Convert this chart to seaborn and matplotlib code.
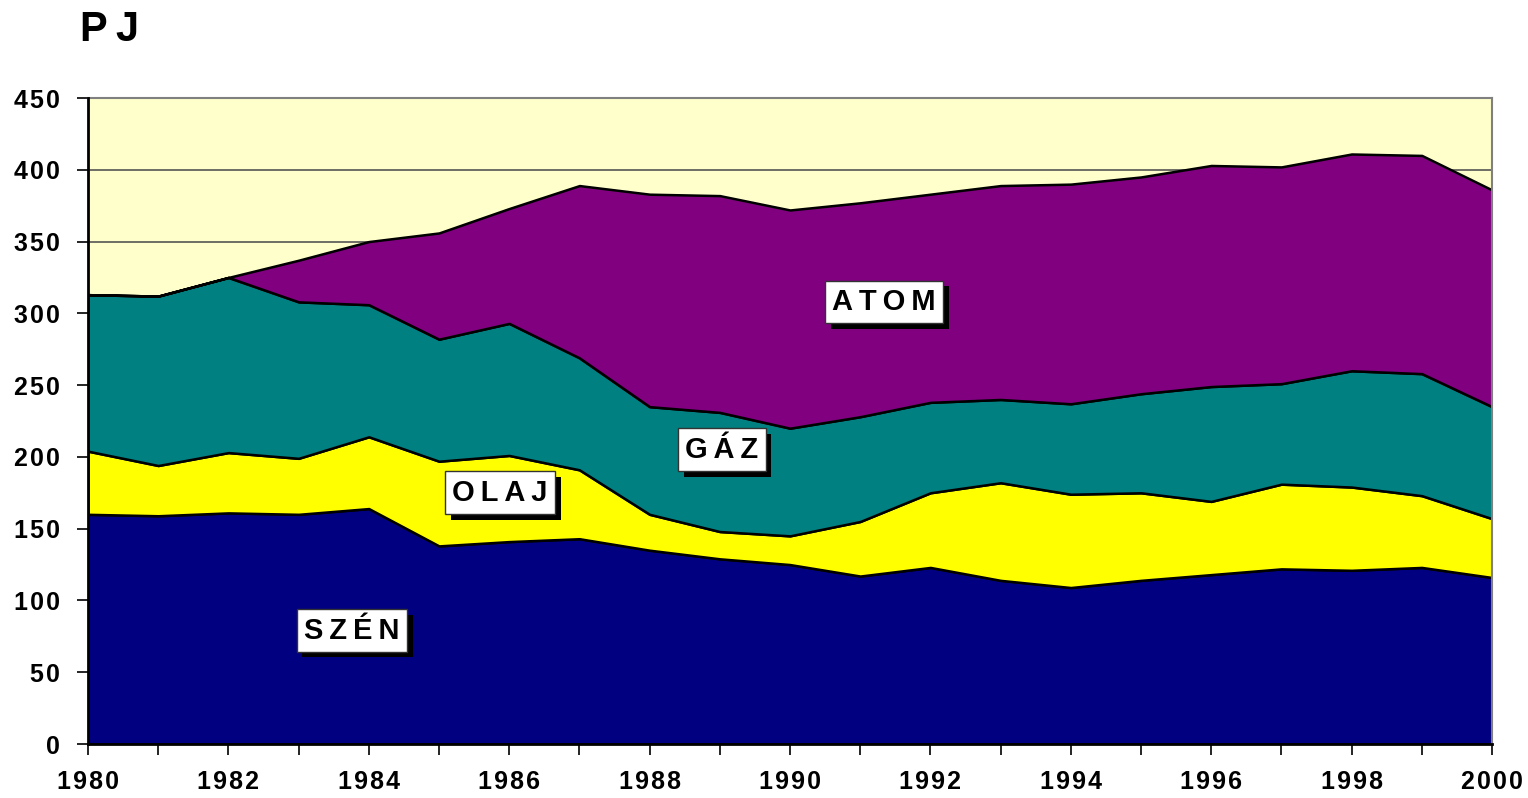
import numpy as np
import seaborn as sns
import matplotlib.pyplot as plt
import matplotlib.patheffects as pe

years = list(range(1980, 2001))
szen = [160, 159, 161, 160, 164, 138, 141, 143, 135, 129, 125, 117, 123, 114, 109, 114, 118, 122, 121, 123, 116]
olaj = [44, 35, 42, 39, 50, 59, 60, 48, 25, 19, 20, 38, 52, 68, 65, 61, 51, 59, 58, 50, 41]
gaz = [109, 118, 122, 109, 92, 85, 92, 78, 75, 83, 75, 73, 63, 58, 63, 69, 80, 70, 81, 85, 78]
atom = [0, 0, 0, 29, 44, 74, 80, 120, 148, 151, 152, 149, 145, 149, 153, 151, 154, 151, 151, 152, 151]
series_names = ['SZÉN', 'OLAJ', 'GÁZ', 'ATOM']
colors = ['#000080', '#FFFF00', '#008080', '#800080']
yticks = list(range(0, 451, 50))
# label anchor points (year, PJ)
label_pos = {'SZÉN': (1983.76, 79), 'OLAJ': (1985.87, 175), 'GÁZ': (1989.03, 205), 'ATOM': (1991.34, 308)}


def spaced(s, sp='\u2009'):
    # mimic the wide letter spacing of the original
    return sp.join(s)


sns.set_theme(style='white')
plt.rcParams['font.family'] = ['Liberation Sans', 'DejaVu Sans']

fig = plt.figure(figsize=(15.28, 7.98), dpi=100)
ax = fig.add_axes([88 / 1528, 1 - 744 / 798, (1492 - 88) / 1528, (744 - 98) / 798])
ax.set_facecolor('#FFFFCC')

ax.stackplot(years, szen, olaj, gaz, atom, colors=colors, edgecolor='black', linewidth=1.8, zorder=2)

ax.set_xlim(1980, 2000)
ax.set_ylim(0, 450)
ax.set_yticks(yticks)
ax.set_yticklabels([spaced(str(v), '\u200a') for v in yticks])
ax.set_xticks(years)
ax.set_xticklabels([spaced(str(y), '\u200a') if y % 2 == 0 else '' for y in years])
ax.yaxis.grid(True, color='#555555', linewidth=1.2, zorder=1)
ax.xaxis.grid(False)
ax.set_axisbelow(True)

ax.tick_params(axis='both', direction='out', length=8, width=1.2, color='black',
               labelsize=18, labelcolor='black')
ax.tick_params(axis='x', pad=11, bottom=True)
ax.tick_params(axis='y', pad=12, left=True)
for lbl in ax.get_xticklabels() + ax.get_yticklabels():
    lbl.set_fontweight('bold')

for side in ['left', 'bottom']:
    ax.spines[side].set_color('black')
    ax.spines[side].set_linewidth(2)
for side in ['top', 'right']:
    ax.spines[side].set_color('#808080')
    ax.spines[side].set_linewidth(1.5)
ax.spines['left'].set_zorder(5)
ax.spines['bottom'].set_zorder(5)

for name in series_names:
    x, y = label_pos[name]
    t = ax.text(x, y, spaced(name), ha='center', va='center', fontsize=21, fontweight='bold',
                color='black', zorder=6,
                bbox=dict(boxstyle='square,pad=0.25', facecolor='white', edgecolor='#333333', linewidth=1))
    t.get_bbox_patch().set_path_effects([
        pe.SimplePatchShadow(offset=(4, -4), shadow_rgbFace='black', alpha=1),
        pe.Normal()])

fig.text(80 / 1528, 1 - 30 / 798, spaced('PJ'), fontsize=30, fontweight='bold', color='black',
         ha='left', va='center')

fig.savefig('out.png', dpi=100)
